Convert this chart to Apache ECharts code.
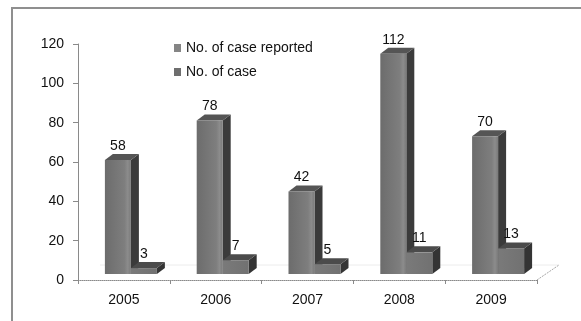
<!DOCTYPE html>
<html>
<head>
<meta charset="utf-8">
<script src="https://cdn.jsdelivr.net/npm/echarts@6/dist/echarts.min.js"></script>
<style>
  html, body { margin: 0; padding: 0; background: #fff; }
  #main { width: 581px; height: 321px; }
</style>
</head>
<body>
<div id="main"></div>
<script>
const years = ['2005', '2006', '2007', '2008', '2009'];
const reported = [58, 78, 42, 112, 70];
const cases = [3, 7, 5, 11, 13];
const yTicks = { min: 0, max: 120, interval: 20 };

const FONT = 'Liberation Sans, Arial, sans-serif';
const FLOOR = 6;   // bars stand a little behind the axis
const DX = 8, DY = -6; // depth of each bar

// a box drawn with a front face, a top face and a dark side
function bar3d(left, width, front, side, top) {
  return function (params, api) {
    const i = api.value(0);
    const v = api.value(1);
    const b = api.coord([i, 0]);
    const t = api.coord([i, v]);
    const x0 = b[0] + left, x1 = x0 + width;
    const yb = b[1] - FLOOR, yt = t[1] - FLOOR;
    return {
      type: 'group',
      children: [
        {
          type: 'polygon',
          shape: { points: [[x1, yt], [x1 + DX, yt + DY], [x1 + DX, yb + DY], [x1, yb]] },
          style: { fill: side }
        },
        {
          type: 'polygon',
          shape: { points: [[x0, yt], [x0 + DX, yt + DY], [x1 + DX, yt + DY], [x1, yt]] },
          style: { fill: top }
        },
        {
          type: 'rect',
          shape: { x: x0, y: yt, width: width, height: yb - yt },
          style: { fill: front }
        },
        {
          type: 'text',
          style: {
            text: String(v), x: x0 + width / 2, y: yt - 14,
            align: 'center', verticalAlign: 'middle',
            fill: '#111', font: '14px ' + FONT
          }
        }
      ]
    };
  };
}

const frontA = {
  type: 'linear', x: 0, y: 0, x2: 1, y2: 0,
  colorStops: [
    { offset: 0, color: '#6c6c6c' },
    { offset: 0.75, color: '#7e7e7e' },
    { offset: 0.88, color: '#8c8c8c' },
    { offset: 1, color: '#7a7a7a' }
  ]
};
const frontB = {
  type: 'linear', x: 0, y: 0, x2: 1, y2: 0,
  colorStops: [
    { offset: 0, color: '#7a7a7a' },
    { offset: 1, color: '#717171' }
  ]
};

const chart = echarts.init(document.getElementById('main'));
chart.setOption({
  animation: false,
  backgroundColor: '#fff',
  textStyle: { fontFamily: FONT },
  grid: { left: 78, right: 44, top: 44, bottom: 41 },
  legend: {
    orient: 'vertical', left: 174, top: 41, padding: 0,
    icon: 'rect', itemWidth: 7, itemHeight: 8, itemGap: 10,
    textStyle: { fontSize: 14, color: '#111', fontFamily: FONT },
    data: ['No. of case reported', 'No. of case']
  },
  xAxis: {
    type: 'category',
    data: years,
    axisLine: { lineStyle: { color: '#8a8a8a', type: 'dotted', width: 1 } },
    axisTick: { show: true, length: 4, lineStyle: { color: '#8a8a8a' } },
    axisLabel: { fontSize: 14, color: '#111', margin: 13, fontFamily: FONT }
  },
  yAxis: {
    type: 'value',
    min: yTicks.min, max: yTicks.max, interval: yTicks.interval,
    axisLine: { show: true, lineStyle: { color: '#8a8a8a' } },
    axisTick: { show: true, length: 5, lineStyle: { color: '#8a8a8a' } },
    splitLine: { show: false },
    axisLabel: { fontSize: 14, color: '#111', margin: 14, fontFamily: FONT }
  },
  series: [
    {
      name: 'No. of case reported',
      type: 'custom',
      itemStyle: { color: '#858585' },
      renderItem: bar3d(-19, 26, frontA, '#3b3b3b', '#555555'),
      encode: { x: 0, y: 1 },
      data: reported.map((v, i) => [i, v]),
      z: 2
    },
    {
      name: 'No. of case',
      type: 'custom',
      itemStyle: { color: '#6e6e6e' },
      renderItem: bar3d(7, 26, frontB, '#343434', '#4b4b4b'),
      encode: { x: 0, y: 1 },
      data: cases.map((v, i) => [i, v]),
      z: 3
    }
  ],
  graphic: [
    {
      type: 'rect', z: -1,
      shape: { x: 12, y: 8, width: 620, height: 360 },
      style: { fill: 'none', stroke: '#8f8f8f', lineWidth: 2 }
    },
    {
      type: 'line', z: 0,
      shape: { x1: 100, y1: 265, x2: 559, y2: 265 },
      style: { stroke: '#ececec', lineWidth: 1 }
    },
    {
      type: 'line', z: 0,
      shape: { x1: 537, y1: 280, x2: 559, y2: 265 },
      style: { stroke: '#a8a8a8', lineWidth: 1, lineDash: [2, 1] }
    }
  ]
});
</script>
</body>
</html>
